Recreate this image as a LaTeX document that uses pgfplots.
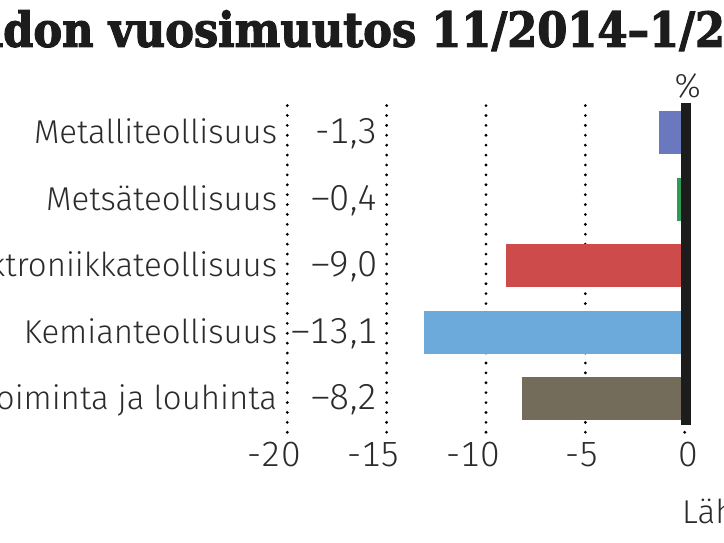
\documentclass[border=0pt]{standalone}
\usepackage{fontspec}
\setmainfont{Fira Sans Light}[Numbers=Monospaced]
\newfontfamily\titlefont{DejaVu Serif}[FakeBold=2.5]
\usepackage{pgfplots}
\pgfplotsset{compat=1.18}
\definecolor{txt}{HTML}{2B2B2B}
\definecolor{cmet}{HTML}{6A78BD}
\definecolor{cmetsa}{HTML}{2E9B57}
\definecolor{celek}{HTML}{CD4B4B}
\definecolor{ckem}{HTML}{6CAADB}
\definecolor{ckaiv}{HTML}{746C5A}
\definecolor{czero}{HTML}{1C1C1C}
\begin{document}
\begin{tikzpicture}[x=1pt,y=1pt]
\useasboundingbox (0,0) rectangle (724,543);
\clip (0,0) rectangle (724,543);
\begin{axis}[
  at={(287.3pt,110.7pt)}, anchor=south west,
  scale only axis, width=397.4pt, height=333.1pt,
  xmin=-20, xmax=0, ymin=-0.5, ymax=4.5,
  clip=false,
  axis line style={draw=none}, tick style={draw=none},
  major tick length=0pt,
  xtick={-20,-15,-10,-5,0}, xticklabels={-20,-15,-10,-5,0},
  ytick={0,1,2,3,4},
  yticklabels={Kaivostoiminta ja louhinta, Kemianteollisuus, Elektroniikkateollisuus, Metsäteollisuus, Metalliteollisuus},
  yticklabel style={anchor=base east, inner sep=0pt, xshift=-10pt, yshift=-11pt, font=\fontsize{33}{35}\selectfont, text=txt},
  xticklabel style={anchor=base east, inner sep=0pt, xshift=14pt, yshift=-34.7pt, font=\fontsize{35}{37}\selectfont, text=txt},
  xmajorgrids,
  major grid style={line width=3.1pt, line cap=round, dash pattern=on 0pt off 9.9pt, black},
]
\addplot[xbar, bar width=43pt, bar shift=0pt, fill=cmet, draw=none] coordinates {(-1.3,4)};
\addplot[xbar, bar width=43pt, bar shift=0pt, fill=cmetsa, draw=none] coordinates {(-0.4,3)};
\addplot[xbar, bar width=43pt, bar shift=0pt, fill=celek, draw=none] coordinates {(-9.0,2)};
\addplot[xbar, bar width=43pt, bar shift=0pt, fill=ckem, draw=none] coordinates {(-13.1,1)};
\addplot[xbar, bar width=43pt, bar shift=0pt, fill=ckaiv, draw=none] coordinates {(-8.2,0)};
\addplot[draw=none, mark=none, nodes near coords, point meta=explicit symbolic,
  every node near coord/.style={anchor=base east, inner sep=0pt, yshift=-11pt, font=\fontsize{36}{38}\selectfont, text=txt}]
  coordinates {(-15.44,4) [-1,3] (-15.44,3) [–0,4] (-15.44,2) [–9,0] (-15.44,1) [–13,1] (-15.44,0) [–8,2]};
\draw[line width=10pt, czero] (axis cs:0.09,4.44) -- (axis cs:0.09,-0.39);
\end{axis}
\node[anchor=base, inner sep=0pt, font=\fontsize{33}{35}\selectfont, text=txt] at (687.7,445.3) {\%};
\node[anchor=base west, inner sep=0pt, font=\fontsize{33}{35}\selectfont, text=txt] at (682,19.7) {Lähde: Tilastokeskus};
\node[anchor=base west, inner sep=0pt, font=\titlefont\bfseries\fontsize{48}{50}\selectfont, text=czero] at (3,496.3) {\scalebox{0.9}[1]{\llap{Liikevaih}don vuosimuutos 11/2014–1/2015}};
\end{tikzpicture}
\end{document}
